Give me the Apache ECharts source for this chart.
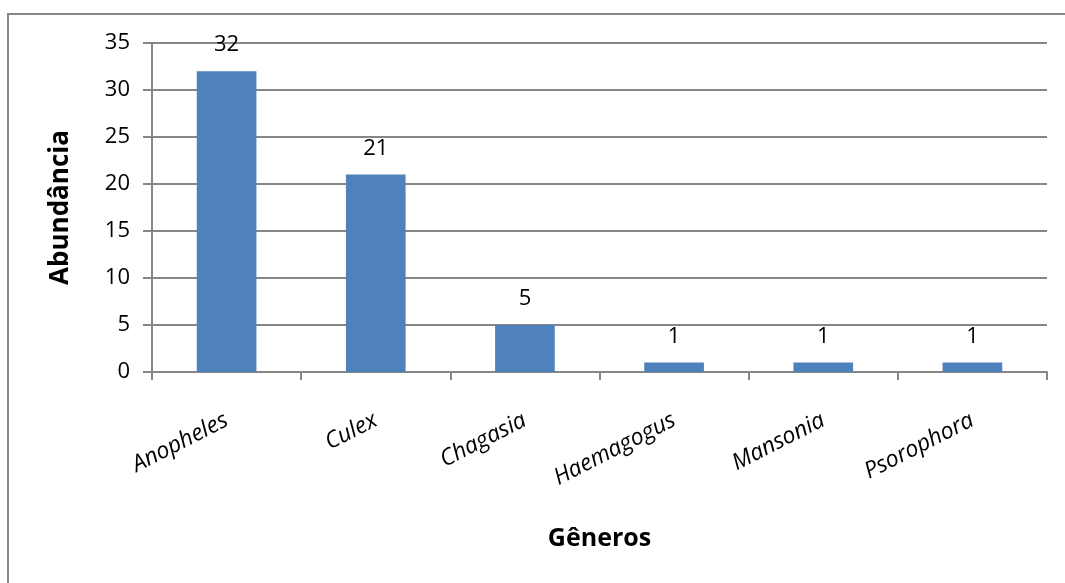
<!DOCTYPE html>
<html>
<head>
<meta charset="utf-8">
<script src="https://cdn.jsdelivr.net/npm/echarts@6/dist/echarts.min.js"></script>
<style>html,body{margin:0;padding:0;background:#fff}#c{width:1065px;height:583px}</style>
</head>
<body>
<div id="c"></div>
<script>
const categories = ['Anopheles', 'Culex', 'Chagasia', 'Haemagogus', 'Mansonia', 'Psorophora'];
const values = [32, 21, 5, 1, 1, 1];
const yTicks = [0, 5, 10, 15, 20, 25, 30, 35];

const chart = echarts.init(document.getElementById('c'));
const font = '"Open Sans", "DejaVu Sans", sans-serif';
chart.setOption({
  animation: false,
  graphic: [{
    type: 'rect', left: 7, top: 13, z: -1,
    shape: { width: 1200, height: 700 },
    style: { fill: '#fff', stroke: '#868686', lineWidth: 2 }
  }],
  grid: { left: 152, right: 18, top: 43, bottom: 211 },
  xAxis: {
    type: 'category',
    data: categories,
    name: 'Gêneros',
    nameLocation: 'middle',
    nameGap: 154,
    nameTextStyle: { fontFamily: font, fontSize: 25, fontWeight: 'bold', color: '#000' },
    axisLine: { lineStyle: { color: '#868686', width: 2 } },
    axisTick: { show: true, length: 8, lineStyle: { color: '#868686', width: 2 } },
    axisLabel: { rotate: 27, margin: 47, fontFamily: font, fontSize: 23, fontStyle: 'italic', color: '#000' }
  },
  yAxis: {
    type: 'value',
    min: 0, max: 35, interval: 5,
    name: 'Abundância',
    nameLocation: 'middle',
    nameGap: 78,
    nameTextStyle: { fontFamily: font, fontSize: 26, fontWeight: 'bold', color: '#000' },
    axisLine: { show: true, lineStyle: { color: '#868686', width: 2 } },
    axisTick: { show: true, length: 9, lineStyle: { color: '#868686', width: 2 } },
    splitLine: { lineStyle: { color: '#868686', width: 2 } },
    axisLabel: {
      margin: 22, fontFamily: font, fontSize: 22, color: '#000',
      formatter: v => yTicks.includes(v) ? String(v) : ''
    }
  },
  series: [{
    type: 'bar',
    data: values,
    barWidth: '40%',
    itemStyle: { color: '#4F81BD' },
    label: { show: true, position: 'top', distance: 15, fontFamily: font, fontSize: 22, color: '#000' }
  }]
});
</script>
</body>
</html>
